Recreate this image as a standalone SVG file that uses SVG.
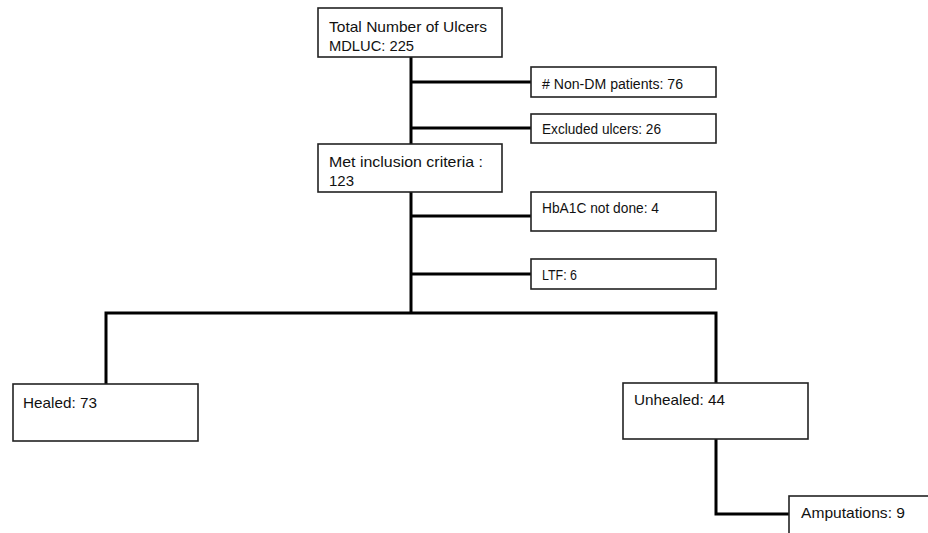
<svg xmlns="http://www.w3.org/2000/svg" width="928" height="533" viewBox="0 0 928 533">
<style>
.box{fill:#fff;stroke:#222;stroke-width:1.6}
.t{font-family:"Liberation Sans",Arial,sans-serif;font-size:14.5px;fill:#111}
.s{font-family:"Liberation Sans",Arial,sans-serif;font-size:14px;fill:#111}
.b{font-family:"Liberation Sans",Arial,sans-serif;font-size:15px;fill:#111}
.c{fill:none;stroke:#000;stroke-width:3}
</style>
<rect width="928" height="533" fill="#fff"/>
<g id="connectors">
<path class="c" d="M411 57V313"/>
<path class="c" d="M411 82H531"/>
<path class="c" d="M411 128H531"/>
<path class="c" d="M411 216H531"/>
<path class="c" d="M411 274H531"/>
<path class="c" d="M106 384V313H716V383"/>
<path class="c" d="M716 439V514H789"/>
</g>
<g id="n_total"><rect class="box" x="318" y="8" width="184" height="49"/><text class="t" x="329" y="32" textLength="158" lengthAdjust="spacingAndGlyphs">Total Number of Ulcers</text><text class="t" x="329" y="51" textLength="85" lengthAdjust="spacingAndGlyphs">MDLUC: 225</text></g>
<g id="n_nondm"><rect class="box" x="531" y="67" width="185" height="30"/><text class="s" x="542" y="89" textLength="141" lengthAdjust="spacingAndGlyphs"># Non-DM patients: 76</text></g>
<g id="n_excluded"><rect class="box" x="531" y="114" width="185" height="29"/><text class="s" x="542" y="134" textLength="119" lengthAdjust="spacingAndGlyphs">Excluded ulcers: 26</text></g>
<g id="n_met"><rect class="box" x="318" y="144" width="184" height="48"/><text class="t" x="329" y="167" textLength="154" lengthAdjust="spacingAndGlyphs">Met inclusion criteria :</text><text class="t" x="329" y="186" textLength="25" lengthAdjust="spacingAndGlyphs">123</text></g>
<g id="n_hba1c"><rect class="box" x="531" y="192" width="185" height="39"/><text class="s" x="542" y="213" textLength="117" lengthAdjust="spacingAndGlyphs">HbA1C not done: 4</text></g>
<g id="n_ltf"><rect class="box" x="531" y="259" width="185" height="30"/><text class="s" x="542" y="280" textLength="35" lengthAdjust="spacingAndGlyphs">LTF: 6</text></g>
<g id="n_healed"><rect class="box" x="13" y="384" width="185" height="57"/><text class="b" x="23" y="408" textLength="74" lengthAdjust="spacingAndGlyphs">Healed: 73</text></g>
<g id="n_unhealed"><rect class="box" x="623" y="383" width="185" height="56"/><text class="b" x="634" y="405" textLength="91" lengthAdjust="spacingAndGlyphs">Unhealed: 44</text></g>
<g id="n_amp"><rect class="box" x="789" y="496" width="142" height="42"/><text class="b" x="801" y="518" textLength="104" lengthAdjust="spacingAndGlyphs">Amputations: 9</text></g>
</svg>
